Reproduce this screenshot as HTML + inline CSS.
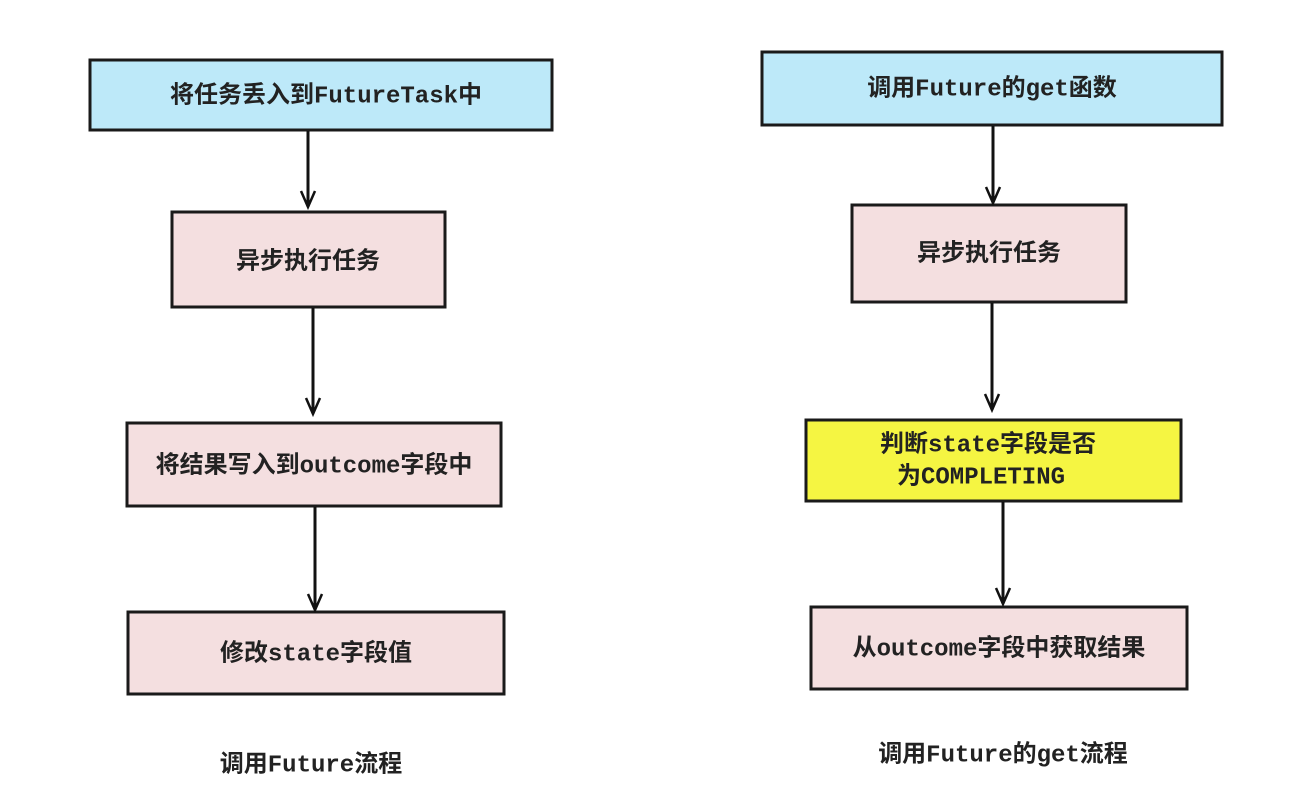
<!DOCTYPE html>
<html><head><meta charset="utf-8"><style>
body{margin:0;background:#fff}
text{font-family:"Liberation Mono","Noto Sans CJK SC",monospace;font-size:24px;font-weight:bold;fill:#222;text-anchor:middle;dominant-baseline:central}
</style></head><body>
<svg width="1298" height="797" xmlns="http://www.w3.org/2000/svg">
<defs><marker id="a" markerWidth="20" markerHeight="20" refX="17" refY="10" orient="auto" markerUnits="userSpaceOnUse"><path d="M1,3 L17,10 L1,17" fill="none" stroke="#111" stroke-width="2.5"/></marker></defs>
<g stroke="#1a1a1a" stroke-width="3">
<rect x="90" y="60" width="462" height="70" fill="#bde9f9"/>
<rect x="172" y="212" width="273" height="95" fill="#f4dfe0"/>
<rect x="127" y="423" width="374" height="83" fill="#f4dfe0"/>
<rect x="128" y="612" width="376" height="82" fill="#f4dfe0"/>
<rect x="762" y="52" width="460" height="73" fill="#bde9f9"/>
<rect x="852" y="205" width="274" height="97" fill="#f4dfe0"/>
<rect x="806" y="420" width="375" height="81" fill="#f5f542"/>
<rect x="811" y="607" width="376" height="82" fill="#f4dfe0"/>
</g>
<g stroke="#111" stroke-width="3" marker-end="url(#a)">
<line x1="308" y1="131" x2="308" y2="207"/>
<line x1="313" y1="308" x2="313" y2="414"/>
<line x1="315" y1="507" x2="315" y2="610"/>
<line x1="993" y1="126" x2="993" y2="203"/>
<line x1="992" y1="303" x2="992" y2="410"/>
<line x1="1003" y1="502" x2="1003" y2="604"/>
</g>
<text x="326" y="97">将任务丢入到FutureTask中</text>
<text x="308" y="263">异步执行任务</text>
<text x="314" y="467">将结果写入到outcome字段中</text>
<text x="316" y="655">修改state字段值</text>
<text x="992" y="90">调用Future的get函数</text>
<text x="989" y="255">异步执行任务</text>
<text x="988" y="446">判断state字段是否</text>
<text x="981" y="478">为COMPLETING</text>
<text x="999" y="650">从outcome字段中获取结果</text>
<text x="311" y="766">调用Future流程</text>
<text x="1003" y="756">调用Future的get流程</text>
</svg>
</body></html>
